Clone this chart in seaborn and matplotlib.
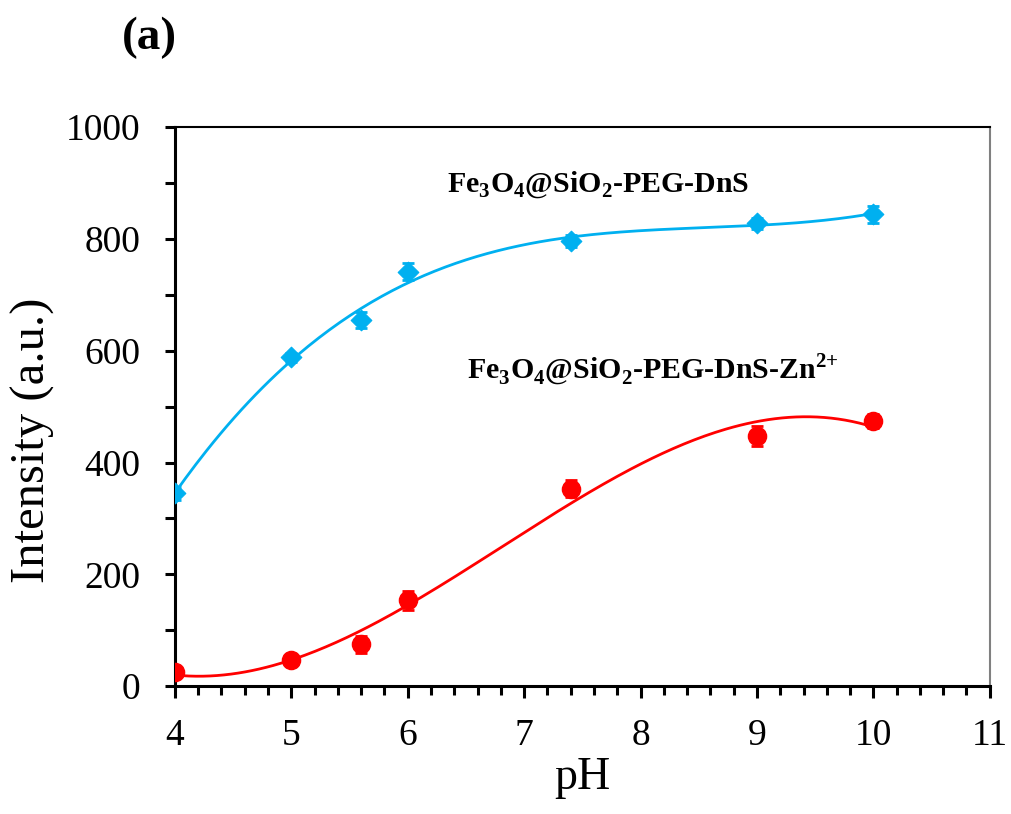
import numpy as np
import pandas as pd
import matplotlib
matplotlib.use('Agg')
import matplotlib.pyplot as plt
import seaborn as sns

ph = [4, 5, 5.6, 6, 7.4, 9, 10]
dns = [345, 588, 655, 741, 796, 828, 844]
dns_err = [12, 8, 15, 15, 10, 10, 15]
dns_zn = [25, 47, 75, 154, 353, 447, 474]
dns_zn_err = [6, 10, 15, 17, 15, 18, 12]

BLUE = '#00B0F0'
RED = '#FF0000'

sns.set_style('ticks')
plt.rcParams['font.family'] = ['Liberation Serif', 'DejaVu Serif']
plt.rcParams['mathtext.fontset'] = 'custom'
plt.rcParams['mathtext.rm'] = 'Liberation Serif'
plt.rcParams['mathtext.bf'] = 'Liberation Serif:bold'
for key in ['text.color', 'axes.labelcolor', 'xtick.color', 'ytick.color']:
    plt.rcParams[key] = 'black'

fig = plt.figure(figsize=(10.11, 8.14), dpi=100)
ax = fig.add_axes([0.173, 0.157, 0.806, 0.687])

# polynomial trendlines, like the spreadsheet fit
xs = np.linspace(4, 10, 200)
fit_b = np.polyval(np.polyfit(ph, dns, 3), xs)
fit_r = np.polyval(np.polyfit(ph, dns_zn, 3), xs)
sns.lineplot(x=xs, y=fit_b, ax=ax, color=BLUE, lw=2, zorder=2)
sns.lineplot(x=xs, y=fit_r, ax=ax, color=RED, lw=2, zorder=2)

ax.errorbar(ph, dns, yerr=dns_err, fmt='none', ecolor=BLUE, elinewidth=2, capsize=4, capthick=2, zorder=3)
ax.errorbar(ph, dns_zn, yerr=dns_zn_err, fmt='none', ecolor=RED, elinewidth=2, capsize=4, capthick=2, zorder=3)
sns.scatterplot(x=ph, y=dns, ax=ax, marker='D', s=110, color=BLUE, edgecolor=BLUE, zorder=4)
sns.scatterplot(x=ph, y=dns_zn, ax=ax, marker='o', s=170, color=RED, edgecolor=RED, zorder=4)

ax.set_xlim(4, 11)
ax.set_ylim(0, 1000)
ax.set_xticks(range(4, 12))
ax.set_yticks(range(0, 1001, 200))
ax.set_xticks(np.arange(4, 11.01, 0.2), minor=True)
ax.set_yticks(range(100, 1000, 200), minor=True)
ax.tick_params(axis='both', which='major', labelsize=27, width=2.2, direction='out', color='black')
ax.tick_params(axis='x', which='major', length=8.6, pad=15)
ax.tick_params(axis='y', which='major', length=7, pad=18)
ax.tick_params(axis='x', which='minor', width=2.2, length=6.5, direction='out', color='black')
ax.tick_params(axis='y', which='minor', width=2.2, length=7, direction='out', color='black')

for side in ['left', 'bottom']:
    ax.spines[side].set_linewidth(2.2)
    ax.spines[side].set_color('black')
ax.spines['top'].set_linewidth(1.5)
ax.spines['top'].set_color('black')
ax.spines['right'].set_linewidth(1.5)
ax.spines['right'].set_color('#808080')

ax.set_xlabel('pH', fontsize=33, labelpad=2)
ax.set_ylabel('Intensity (a.u.)', fontsize=35)
ax.yaxis.set_label_coords(-0.147, 0.44)

ax.text(6.34, 896, r'Fe$_\mathbf{3}$O$_\mathbf{4}$@SiO$_\mathbf{2}$-PEG-DnS',
        fontsize=21.5, fontweight='bold', va='center', ha='left')
ax.text(6.51, 565, r'Fe$_\mathbf{3}$O$_\mathbf{4}$@SiO$_\mathbf{2}$-PEG-DnS-Zn$^{\mathbf{2{+}}}$',
        fontsize=21.5, fontweight='bold', va='center', ha='left')

fig.text(0.148, 0.953, '(a)', fontsize=34, fontweight='bold', va='center', ha='center')

fig.savefig('out.png', dpi=100)
